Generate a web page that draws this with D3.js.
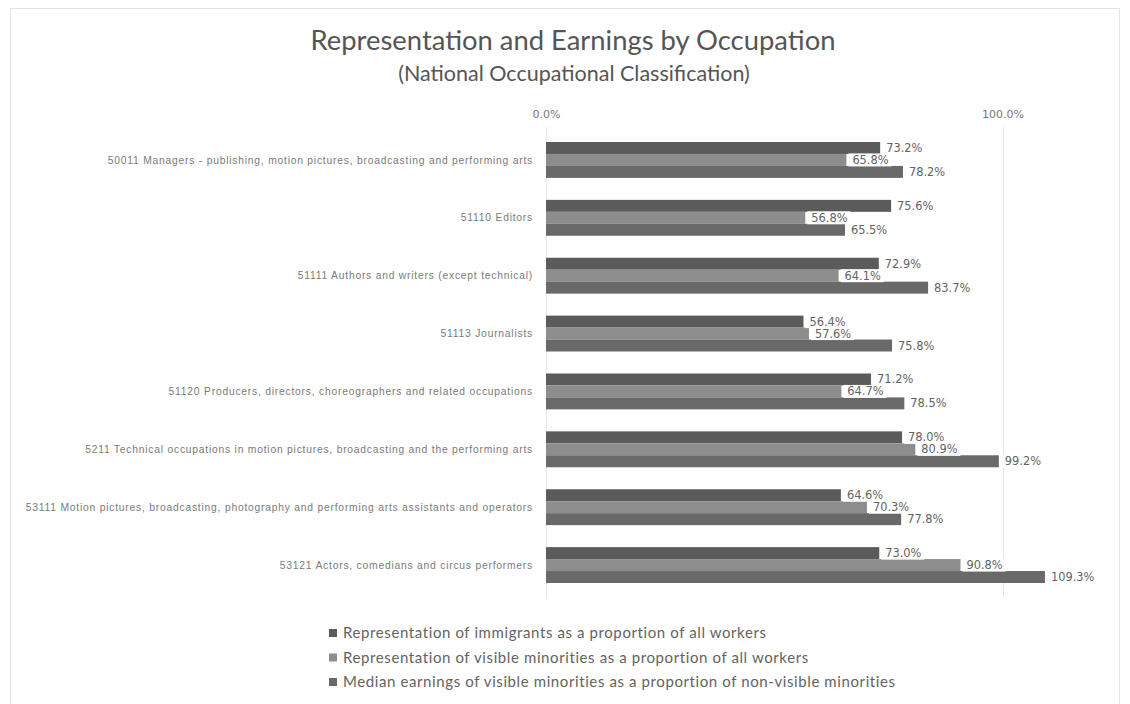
<!DOCTYPE html>
<html>
<head>
<meta charset="utf-8">
<script src="https://cdn.jsdelivr.net/npm/d3@7"></script>
<style>
  html, body { margin: 0; padding: 0; background: #ffffff; }
  svg { display: block; }
</style>
</head>
<body>
<svg id="chart" width="1130" height="704"></svg>
<script>
// Occupations (NOC), listed top to bottom
const categories = [
  "50011 Managers - publishing, motion pictures, broadcasting and performing arts",
  "51110 Editors",
  "51111 Authors and writers (except technical)",
  "51113 Journalists",
  "51120 Producers, directors, choreographers and related occupations",
  "5211 Technical occupations in motion pictures, broadcasting and the performing arts",
  "53111 Motion pictures, broadcasting, photography and performing arts assistants and operators",
  "53121 Actors, comedians and circus performers"
];

// Percent values for each series
const immigrants        = [73.2, 75.6, 72.9, 56.4, 71.2, 78.0, 64.6, 73.0];
const visibleMinorities = [65.8, 56.8, 64.1, 57.6, 64.7, 80.9, 70.3, 90.8];
const medianEarnings    = [78.2, 65.5, 83.7, 75.8, 78.5, 99.2, 77.8, 109.3];

const seriesNames = [
  "Representation of immigrants as a proportion of all workers",
  "Representation of visible minorities as a proportion of all workers",
  "Median earnings of visible minorities as a proportion of non-visible minorities"
];

const xTicks = [0, 100];

const seriesValues = [immigrants, visibleMinorities, medianEarnings];
const colors = ["#5b5b5b", "#8d8d8d", "#696969"];
const textColor = "#636363";

const svg = d3.select("#chart");

// Outer chart frame
svg.append("rect")
  .attr("x", 10.5).attr("y", 8.5)
  .attr("width", 1109).attr("height", 720)
  .attr("fill", "#ffffff")
  .attr("stroke", "#e4e4e4");

// Titles
svg.append("text")
  .attr("x", 573).attr("y", 50)
  .attr("text-anchor", "middle")
  .attr("font-family", "Lato, 'Open Sans', sans-serif")
  .attr("font-size", 27.4)
  .attr("fill", "#555")
  .text("Representation and Earnings by Occupation");

svg.append("text")
  .attr("x", 574).attr("y", 81)
  .attr("text-anchor", "middle")
  .attr("font-family", "Lato, 'Open Sans', sans-serif")
  .attr("font-size", 21.5)
  .attr("fill", "#555")
  .text("(National Occupational Classification)");

// Scales
const x = d3.scaleLinear().domain([0, 120]).range([546, 546 + 1.2 * 456.5]);
const y = d3.scaleBand().domain(categories).range([131, 594])
  .paddingInner(0.38).paddingOuter(0.19);
const ySub = d3.scaleBand().domain([0, 1, 2]).range([0, y.bandwidth()]);

// Vertical gridlines
svg.append("g")
  .selectAll("line")
  .data(xTicks)
  .join("line")
  .attr("x1", d => Math.round(x(d)) + 0.5)
  .attr("x2", d => Math.round(x(d)) + 0.5)
  .attr("y1", 127).attr("y2", 597)
  .attr("stroke", "#e6e6e6")
  .attr("stroke-width", 1);

// Top axis with percent ticks
const xAxis = d3.axisTop(x)
  .tickValues(xTicks)
  .tickSize(0)
  .tickPadding(0)
  .tickFormat(d => d3.format(".1f")(d) + "%");

const axisG = svg.append("g")
  .attr("transform", "translate(0,118)")
  .call(xAxis);
axisG.select(".domain").remove();
axisG.selectAll("text")
  .attr("font-family", "'DejaVu Sans', sans-serif")
  .attr("font-size", 11)
  .attr("fill", "#777");

// Category labels
svg.append("g")
  .selectAll("text")
  .data(categories)
  .join("text")
  .attr("x", 533)
  .attr("y", d => y(d) + y.bandwidth() / 2)
  .attr("dy", "0.35em")
  .attr("text-anchor", "end")
  .attr("font-family", "'Liberation Sans', Arial, sans-serif")
  .attr("font-size", 10.3)
  .attr("letter-spacing", 0.78)
  .attr("fill", "#7a7a7a")
  .text(d => d);

// Bars
const barData = [];
seriesValues.forEach((vals, s) => {
  vals.forEach((v, i) => barData.push({ s, cat: categories[i], v }));
});

svg.append("g")
  .selectAll("rect")
  .data(barData)
  .join("rect")
  .attr("x", x(0))
  .attr("y", d => y(d.cat) + ySub(d.s))
  .attr("width", d => x(d.v) - x(0))
  .attr("height", ySub.bandwidth())
  .attr("fill", d => colors[d.s]);

// Value labels with white backing
const labelG = svg.append("g");
const labels = labelG.selectAll("g")
  .data(barData)
  .join("g")
  .attr("transform", d => `translate(${x(d.v)},${y(d.cat) + ySub(d.s) + ySub.bandwidth() / 2})`);

labels.append("rect")
  .attr("x", 2)
  .attr("y", -6.5)
  .attr("height", 13)
  .attr("fill", "#ffffff");

labels.append("text")
  .attr("x", 6)
  .attr("dy", "0.35em")
  .attr("font-family", "'DejaVu Sans', sans-serif")
  .attr("font-size", 11.4)
  .attr("fill", textColor)
  .text(d => d3.format(".1f")(d.v) + "%");

labels.each(function () {
  const g = d3.select(this);
  const w = g.select("text").node().getComputedTextLength();
  g.select("rect").attr("width", w + 7);
});

// Legend
const legend = svg.append("g")
  .selectAll("g")
  .data(seriesNames)
  .join("g")
  .attr("transform", (d, i) => `translate(329,${633 + i * 24.5})`);

legend.append("rect")
  .attr("x", 0).attr("y", -4)
  .attr("width", 8).attr("height", 8)
  .attr("fill", (d, i) => colors[i]);

legend.append("text")
  .attr("x", 14)
  .attr("dy", "0.35em")
  .attr("font-family", "Lato, 'Open Sans', sans-serif")
  .attr("font-size", 15)
  .attr("letter-spacing", 0.6)
  .attr("fill", textColor)
  .text(d => d);
</script>
</body>
</html>
